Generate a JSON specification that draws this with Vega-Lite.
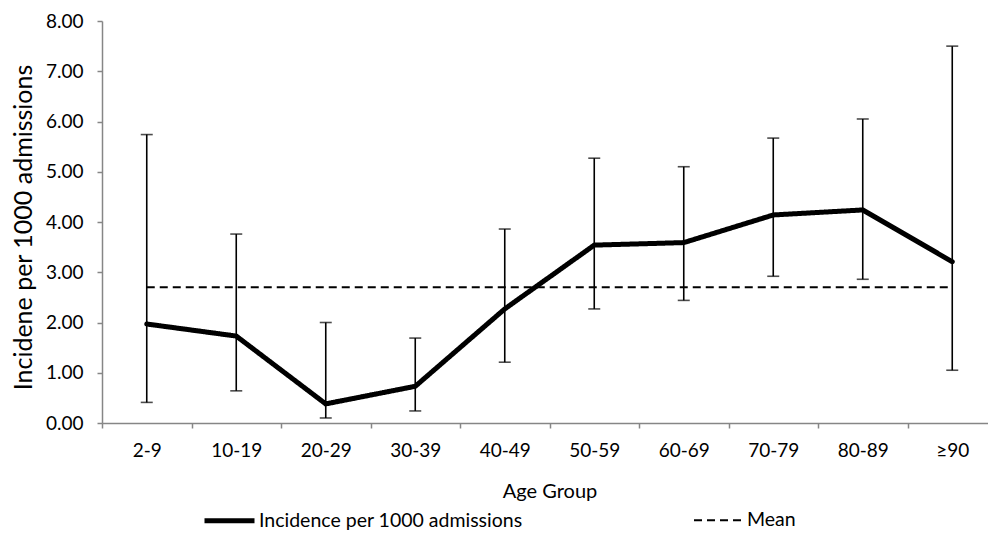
{
  "$schema": "https://vega.github.io/schema/vega-lite/v6.json",
  "width": 895,
  "height": 402,
  "autosize": {"type": "none"},
  "padding": {"left": 102, "top": 21, "right": -9, "bottom": 124},
  "background": "white",
  "config": {
    "view": {"stroke": null},
    "font": "Lato",
    "axis": {
      "grid": false,
      "domainColor": "#868686",
      "domainWidth": 1.5,
      "tickColor": "#868686",
      "tickWidth": 1.5,
      "tickSize": 5,
      "labelColor": "#000000",
      "labelFont": "Lato",
      "labelFontSize": 19,
      "titleColor": "#000000",
      "titleFont": "Lato",
      "titleFontSize": 20,
      "titleFontWeight": "normal"
    },
    "legend": {
      "labelFont": "Lato",
      "labelFontSize": 19.5,
      "labelColor": "#000000",
      "labelLimit": 400
    }
  },
  "datasets": {
    "incidence": [
      {"age": "2-9", "series": "Incidence per 1000 admissions", "value": 1.97, "lo": 0.41, "hi": 5.74},
      {"age": "10-19", "series": "Incidence per 1000 admissions", "value": 1.73, "lo": 0.64, "hi": 3.76},
      {"age": "20-29", "series": "Incidence per 1000 admissions", "value": 0.38, "lo": 0.10, "hi": 2.00},
      {"age": "30-39", "series": "Incidence per 1000 admissions", "value": 0.73, "lo": 0.24, "hi": 1.69},
      {"age": "40-49", "series": "Incidence per 1000 admissions", "value": 2.27, "lo": 1.21, "hi": 3.86},
      {"age": "50-59", "series": "Incidence per 1000 admissions", "value": 3.54, "lo": 2.27, "hi": 5.27},
      {"age": "60-69", "series": "Incidence per 1000 admissions", "value": 3.59, "lo": 2.44, "hi": 5.10},
      {"age": "70-79", "series": "Incidence per 1000 admissions", "value": 4.14, "lo": 2.92, "hi": 5.67},
      {"age": "80-89", "series": "Incidence per 1000 admissions", "value": 4.24, "lo": 2.86, "hi": 6.05},
      {"age": "≥90", "series": "Incidence per 1000 admissions", "value": 3.21, "lo": 1.05, "hi": 7.50}
    ],
    "mean": [
      {"age": "2-9", "series": "Mean", "value": 2.70},
      {"age": "10-19", "series": "Mean", "value": 2.70},
      {"age": "20-29", "series": "Mean", "value": 2.70},
      {"age": "30-39", "series": "Mean", "value": 2.70},
      {"age": "40-49", "series": "Mean", "value": 2.70},
      {"age": "50-59", "series": "Mean", "value": 2.70},
      {"age": "60-69", "series": "Mean", "value": 2.70},
      {"age": "70-79", "series": "Mean", "value": 2.70},
      {"age": "80-89", "series": "Mean", "value": 2.70},
      {"age": "≥90", "series": "Mean", "value": 2.70}
    ]
  },
  "encoding": {
    "x": {
      "field": "age",
      "type": "nominal",
      "sort": null,
      "bandPosition": 0.5,
      "scale": {
        "type": "band",
        "paddingInner": 0,
        "paddingOuter": 0,
        "domain": ["2-9", "10-19", "20-29", "30-39", "40-49", "50-59", "60-69", "70-79", "80-89", "≥90"]
      },
      "axis": {
        "title": "Age Group",
        "labelAngle": 0,
        "tickBand": "extent",
        "labelPadding": 13,
        "titleY": 58,
        "titleBaseline": "top"
      }
    }
  },
  "layer": [
    {
      "data": {"name": "incidence"},
      "mark": {"type": "rule", "color": "#000000", "strokeWidth": 1.6},
      "encoding": {
        "y": {
          "field": "lo",
          "type": "quantitative",
          "scale": {"domain": [0, 8], "nice": false},
          "axis": {
            "title": "Incidene per 1000 admissions",
            "titleFontSize": 25,
            "values": [0, 1, 2, 3, 4, 5, 6, 7, 8],
            "format": ".2f",
            "labelPadding": 14,
            "titleX": -79,
            "titleY": 206,
            "titleAngle": -90,
            "titleAlign": "center",
            "titleBaseline": "middle"
          }
        },
        "y2": {"field": "hi"}
      }
    },
    {
      "data": {"name": "incidence"},
      "mark": {"type": "tick", "color": "#000000", "size": 12, "thickness": 1.6, "orient": "horizontal"},
      "encoding": {"y": {"field": "hi", "type": "quantitative"}}
    },
    {
      "data": {"name": "incidence"},
      "mark": {"type": "tick", "color": "#000000", "size": 12, "thickness": 1.6, "orient": "horizontal"},
      "encoding": {"y": {"field": "lo", "type": "quantitative"}}
    },
    {
      "data": {"name": "mean"},
      "mark": {"type": "line", "color": "#000000"},
      "encoding": {
        "y": {"field": "value", "type": "quantitative"},
        "strokeDash": {
          "field": "series",
          "type": "nominal",
          "scale": {
            "domain": ["Incidence per 1000 admissions", "Mean"],
            "range": [[1, 0], [8, 5]]
          },
          "legend": {
            "title": null,
            "orient": "none",
            "direction": "horizontal",
            "legendX": 100,
            "legendY": 472,
            "symbolType": "stroke",
            "symbolSize": 2500,
            "symbolStrokeColor": "#000000",
            "columnPadding": 167,
            "labelOffset": 2
          }
        },
        "strokeWidth": {
          "field": "series",
          "type": "nominal",
          "scale": {
            "domain": ["Incidence per 1000 admissions", "Mean"],
            "range": [5, 2]
          },
          "legend": {
            "title": null,
            "orient": "none",
            "direction": "horizontal",
            "legendX": 100,
            "legendY": 472,
            "symbolType": "stroke",
            "symbolSize": 2500,
            "symbolStrokeColor": "#000000",
            "columnPadding": 167,
            "labelOffset": 2
          }
        }
      }
    },
    {
      "data": {"name": "incidence"},
      "mark": {"type": "line", "color": "#000000", "strokeJoin": "round", "strokeCap": "round"},
      "encoding": {
        "y": {"field": "value", "type": "quantitative"},
        "strokeDash": {"field": "series", "type": "nominal"},
        "strokeWidth": {"field": "series", "type": "nominal"}
      }
    }
  ]
}
